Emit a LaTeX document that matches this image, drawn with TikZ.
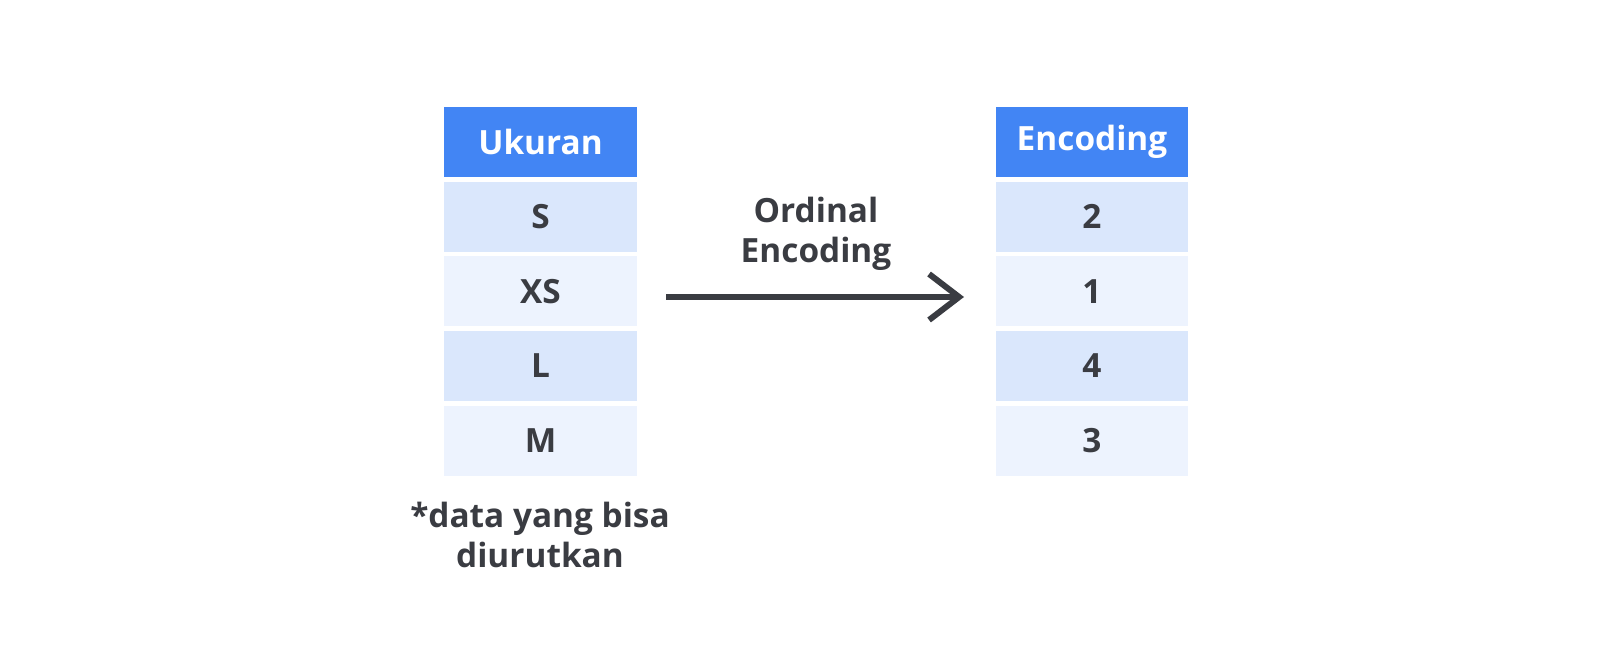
\documentclass[tikz,border=0pt]{standalone}
\usepackage{fontspec}
\setmainfont{Open Sans}
\usetikzlibrary{arrows.meta,positioning}
\definecolor{headblue}{HTML}{4285F4}
\definecolor{rowdark}{HTML}{DAE7FC}
\definecolor{rowlight}{HTML}{EDF3FE}
\definecolor{txtgray}{HTML}{3A3C42}
\newcommand\tabfont{\fontsize{19}{22.5}\selectfont\bfseries}

\begin{document}
\begin{tikzpicture}[node distance= 1.493cm, x=0.02cm, y=-0.02cm]
      \useasboundingbox (0,0) rectangle (1600,671);
      \begin{scope}[every node/.style={minimum width=3.86cm, minimum height=1.4cm, inner sep=0pt, text=txtgray, font=\tabfont}]
        \node[fill=headblue, text=white] (ukuran) at (540.5,142) {Ukuran};
        \node[fill=rowdark] (s) [below of= ukuran] {S};
        \node[fill=rowlight] (xs) [below of= s] {XS};
        \node[fill=rowdark] (l) [below of= xs] {L};
        \node[fill=rowlight] (m) [below of= l] {M};
        \node[fill=headblue, text=white] (encoding) at (1092,142) {Encoding};
        \node[fill=rowdark] (e2) [below of= encoding] {2};
        \node[fill=rowlight] (e1) [below of= e2] {1};
        \node[fill=rowdark] (e4) [below of= e1] {4};
        \node[fill=rowlight] (e3) [below of= e4] {3};
      \end{scope}
      \begin{scope}[every node/.style={text=txtgray, font=\tabfont, align=center}]
        \node (ordinal) at (816,234) {Ordinal\\Encoding};
        \node (catatan) at (540,535) {*data yang bisa\\diurutkan};
      \end{scope}
      \coordinate (panahA) at (666,297);
      \coordinate (panahB) at (964,297);
      \draw[txtgray, line width=0.12cm, -{Straight Barb[length=0.6cm, width=0.92cm]}] (panahA) -- (panahB);
    \end{tikzpicture}
\end{document}
